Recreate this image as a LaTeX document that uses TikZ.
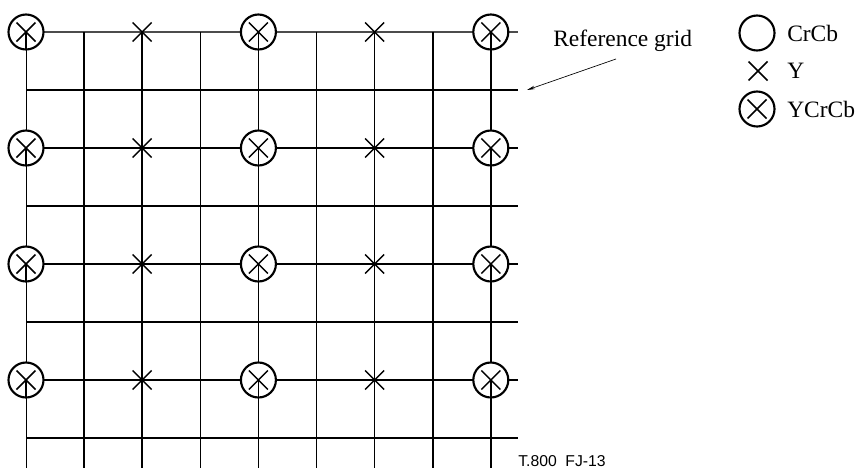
\documentclass[tikz,border=0pt]{standalone}
\usepackage{fontspec}
\setmainfont{Liberation Serif}
\newfontfamily\tagfont{Liberation Sans}
\usetikzlibrary{arrows.meta}
\begin{document}
\begin{tikzpicture}[x=0.75pt, y=-0.75pt, >={Stealth[length=6pt,width=2.6pt]},
  gridline/.style={line width=1.2pt},
  ring/.style={line width=1.6pt, fill=white},
  xmark/.style={line width=1.1pt},
  lbl/.style={font=\fontsize{17.6}{20}\selectfont, inner sep=0pt}]
  \useasboundingbox (0,0) rectangle (857,468);
  % reference grid
  \draw[line width=1pt, black!70] (26,32) -- (518,32);
  \foreach \j in {1,...,7}
    \draw[gridline] (26,{32+58*\j}) -- (518,{32+58*\j});
  \draw[line width=0.7pt] (26,32) -- (26,468);
  \foreach \i in {1,...,8}
    \draw[gridline] ({26+58.1*\i},32) -- ({26+58.1*\i},468);
  % CrCb samples
  \foreach \i in {0,4,8}
    \foreach \j in {0,2,4,6} {
      \draw[ring] ({26+58.1*\i},{32+58*\j}) circle (17.5);
      \draw[gridline] ({26+58.1*\i},{32+58*\j}) -- ({26+58.1*\i},{49.5+58*\j});
    }
  % Y samples
  \foreach \i in {0,2,...,8}
    \foreach \j in {0,2,4,6}
      \draw[xmark, shift={({26+58.1*\i},{32+58*\j})}]
        (-9.5,-9.5) -- (9.5,9.5) (-9.5,9.5) -- (9.5,-9.5);
  % label and arrow
  \node[lbl, anchor=base west] (reflbl) at (553,46) {Reference grid};
  \coordinate (lbltail) at (616,59);
  \coordinate (gridend) at (527,90);
  \draw[->, line width=0.5pt] (lbltail) -- (gridend);
  % legend
  \draw[ring] (757,33) circle (17.5);
  \node[lbl, anchor=west] (leg1) at (787,33) {CrCb};
  \draw[xmark, shift={(758,71)}] (-9.5,-9.5) -- (9.5,9.5) (-9.5,9.5) -- (9.5,-9.5);
  \node[lbl, anchor=west] (leg2) at (787,71) {Y};
  \draw[ring] (757,109) circle (17.5);
  \draw[xmark, shift={(757,109)}] (-9.5,-9.5) -- (9.5,9.5) (-9.5,9.5) -- (9.5,-9.5);
  \node[lbl, anchor=west] (leg3) at (787,109) {YCrCb};
  % figure tag
  \node[font=\tagfont\fontsize{11.8}{13}\selectfont, inner sep=0pt, anchor=base west]
    (tag) at (518,466) {T.800\ \ FJ-13};
\end{tikzpicture}
\end{document}
